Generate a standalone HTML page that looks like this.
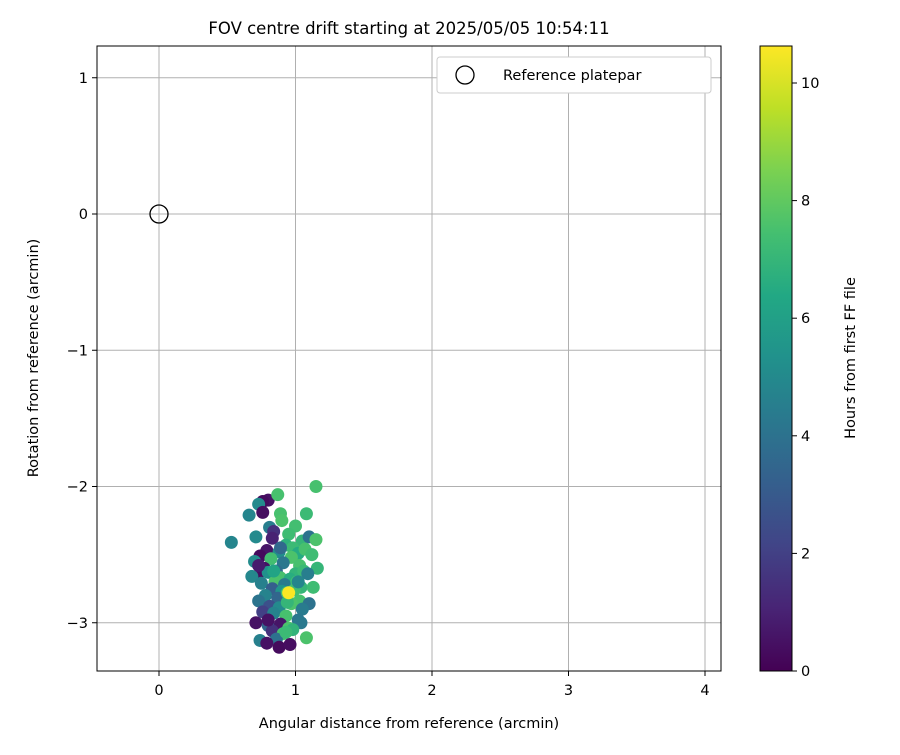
<!DOCTYPE html>
<html><head><meta charset="utf-8"><style>
body{margin:0;background:#fff;font-family:"Liberation Sans","DejaVu Sans",sans-serif;}
svg text{font-family:"DejaVu Sans","Liberation Sans",sans-serif;}
</style></head><body>
<svg id="c" width="900" height="750" xmlns="http://www.w3.org/2000/svg">
<defs><linearGradient id="vir" x1="0" y1="1" x2="0" y2="0">
<stop offset="0" stop-color="#440154"/><stop offset="0.1" stop-color="#482475"/><stop offset="0.2" stop-color="#414487"/><stop offset="0.3" stop-color="#355f8d"/><stop offset="0.4" stop-color="#2a788e"/><stop offset="0.5" stop-color="#21918c"/><stop offset="0.6" stop-color="#22a884"/><stop offset="0.7" stop-color="#44bf70"/><stop offset="0.8" stop-color="#7ad151"/><stop offset="0.9" stop-color="#bddf26"/><stop offset="1" stop-color="#fde725"/></linearGradient></defs>
<text x="409" y="34" font-size="16.5" text-anchor="middle">FOV centre drift starting at 2025/05/05 10:54:11</text>
<g id="grid"></g><g id="pts"></g><g id="axes"></g>
<rect x="760" y="46" width="32" height="625" fill="url(#vir)" stroke="#000" stroke-width="1"/>
<g id="cbt"></g>
<text transform="translate(855,358) rotate(-90)" font-size="14.5" text-anchor="middle">Hours from first FF file</text>
<text x="409" y="728" font-size="14.5" text-anchor="middle">Angular distance from reference (arcmin)</text>
<text transform="translate(38,358) rotate(-90)" font-size="14.5" text-anchor="middle">Rotation from reference (arcmin)</text>
<g>
<rect x="437" y="57" width="274" height="36" rx="3" fill="#fff" stroke="#ccc"/>
<circle cx="465" cy="75" r="9" fill="none" stroke="#000" stroke-width="1.3"/>
<text x="503" y="80" font-size="14.5">Reference platepar</text></g>
</svg>
<script>
const xTicks=[0,1,2,3,4];
const yTicks=[1,0,-1,-2,-3];
const yTickLabels=["1","0","−1","−2","−3"];
const cTicks=[0,2,4,6,8,10];
const px=[1.15,0.80,0.76,0.73,0.87,1.08,0.66,0.76,0.89,0.90,1.00,0.81,0.84,0.95,1.05,0.53,0.71,0.83,1.10,1.15,0.93,0.79,0.98,1.02,1.07,0.74,0.88,0.97,1.12,0.70,0.82,0.91,1.03,1.16,0.77,0.86,1.00,1.06,0.72,0.80,0.89,0.96,1.09,0.68,0.85,0.92,1.01,1.04,0.75,0.83,0.90,0.99,1.13,0.78,0.87,1.03,1.10,0.73,0.81,0.88,0.97,1.05,0.76,0.84,0.93,1.02,0.71,0.80,0.89,0.95,1.04,0.83,0.91,0.98,0.74,0.86,0.93,1.08,0.79,0.88,0.96,0.80,0.94,1.02,0.89,0.73,0.84,0.94,0.95];
const py=[-2.00,-2.10,-2.11,-2.13,-2.06,-2.20,-2.21,-2.19,-2.20,-2.25,-2.29,-2.30,-2.33,-2.35,-2.40,-2.41,-2.37,-2.38,-2.37,-2.39,-2.43,-2.47,-2.45,-2.49,-2.46,-2.51,-2.48,-2.52,-2.50,-2.55,-2.53,-2.56,-2.58,-2.60,-2.60,-2.62,-2.64,-2.62,-2.66,-2.63,-2.67,-2.68,-2.64,-2.66,-2.70,-2.72,-2.70,-2.74,-2.71,-2.75,-2.77,-2.76,-2.74,-2.80,-2.82,-2.84,-2.86,-2.84,-2.88,-2.89,-2.86,-2.90,-2.92,-2.93,-2.95,-2.98,-3.00,-3.02,-3.01,-3.04,-3.00,-3.06,-3.08,-3.05,-3.13,-3.12,-3.07,-3.11,-3.15,-3.18,-3.16,-2.98,-2.85,-2.70,-2.45,-2.58,-2.62,-2.78,-2.78];
const ph=[7.5,0.5,0.3,5,7.5,7.2,4.8,0.4,7.5,7.6,7.4,4.5,1.5,7.3,7.0,4.8,5.0,1.0,4.0,7.6,6.8,0.6,7.2,6.5,7.5,0.3,5.2,7.6,7.3,5.1,7.4,4.2,7.5,7.0,0.5,3.8,6.9,7.2,0.4,5.3,7.5,6.6,4.5,4.9,7.6,4.4,7.3,7.0,4.6,3.2,5.5,7.4,7.3,4.7,3.5,7.5,4.0,4.1,2.6,5.0,7.6,4.4,2.0,4.7,7.5,4.2,0.5,3.4,0.6,7.6,4.3,1.5,7.5,6.9,4.6,4.0,7.2,7.6,0.5,0.3,0.4,0.5,7.0,4.8,3.6,0.8,6.2,7.4,10.6];
const X=v=>159+(v)*136.5, Y=v=>214-v*136.25, C=v=>671-v*58.8;
const ns="http://www.w3.org/2000/svg";
function mk(t,a,p){const e=document.createElementNS(ns,t);for(const k in a)e.setAttribute(k,a[k]);p.appendChild(e);return e;}
const stops=[[68,1,84],[72,36,117],[65,68,135],[53,95,141],[42,120,142],[33,145,140],[34,168,132],[68,191,112],[122,209,81],[189,223,38],[253,231,37]];
function vir(h){let t=Math.max(0,Math.min(1,h/10.63))*10;const i=Math.min(9,Math.floor(t)),f=t-i;const a=stops[i],b=stops[i+1];return `rgb(${a.map((c,k)=>Math.round(c+(b[k]-c)*f)).join(",")})`;}
const g=document.getElementById('grid'),ax=document.getElementById('axes'),pts=document.getElementById('pts'),cb=document.getElementById('cbt');
xTicks.forEach(v=>{const l=mk('line',{x1:X(v),x2:X(v),y1:46,y2:671,stroke:'#b0b0b0','stroke-width':1},g);

mk('line',{x1:X(v),x2:X(v),y1:671,y2:676,stroke:'#000'},ax);
const t=mk('text',{x:X(v),y:695,'font-size':14.5,'text-anchor':'middle'},ax);t.textContent=v;
});
yTicks.forEach((v,i)=>{const l=mk('line',{x1:97,x2:721,y1:Y(v),y2:Y(v),stroke:'#b0b0b0','stroke-width':1},g);

mk('line',{x1:92,x2:97,y1:Y(v),y2:Y(v),stroke:'#000'},ax);
const t=mk('text',{x:88,y:Y(v)+5,'font-size':14.5,'text-anchor':'end'},ax);t.textContent=yTickLabels[i];
});
const fr=mk('rect',{x:97,y:46,width:624,height:625,fill:'none',stroke:'#000','stroke-width':1},ax);

ph.forEach((h,i)=>{const c=mk('circle',{cx:X(px[i]),cy:Y(py[i]),r:6.5,fill:vir(ph[i])},pts);
});
const ref=mk('circle',{cx:X(0),cy:Y(0),r:9,fill:'none',stroke:'#000','stroke-width':1.3},pts);

cTicks.forEach(v=>{mk('line',{x1:792,x2:797,y1:C(v),y2:C(v),stroke:'#000'},cb);
const t=mk('text',{x:801,y:C(v)+5,'font-size':14.5},cb);t.textContent=v;
});
</script>
</body></html>
